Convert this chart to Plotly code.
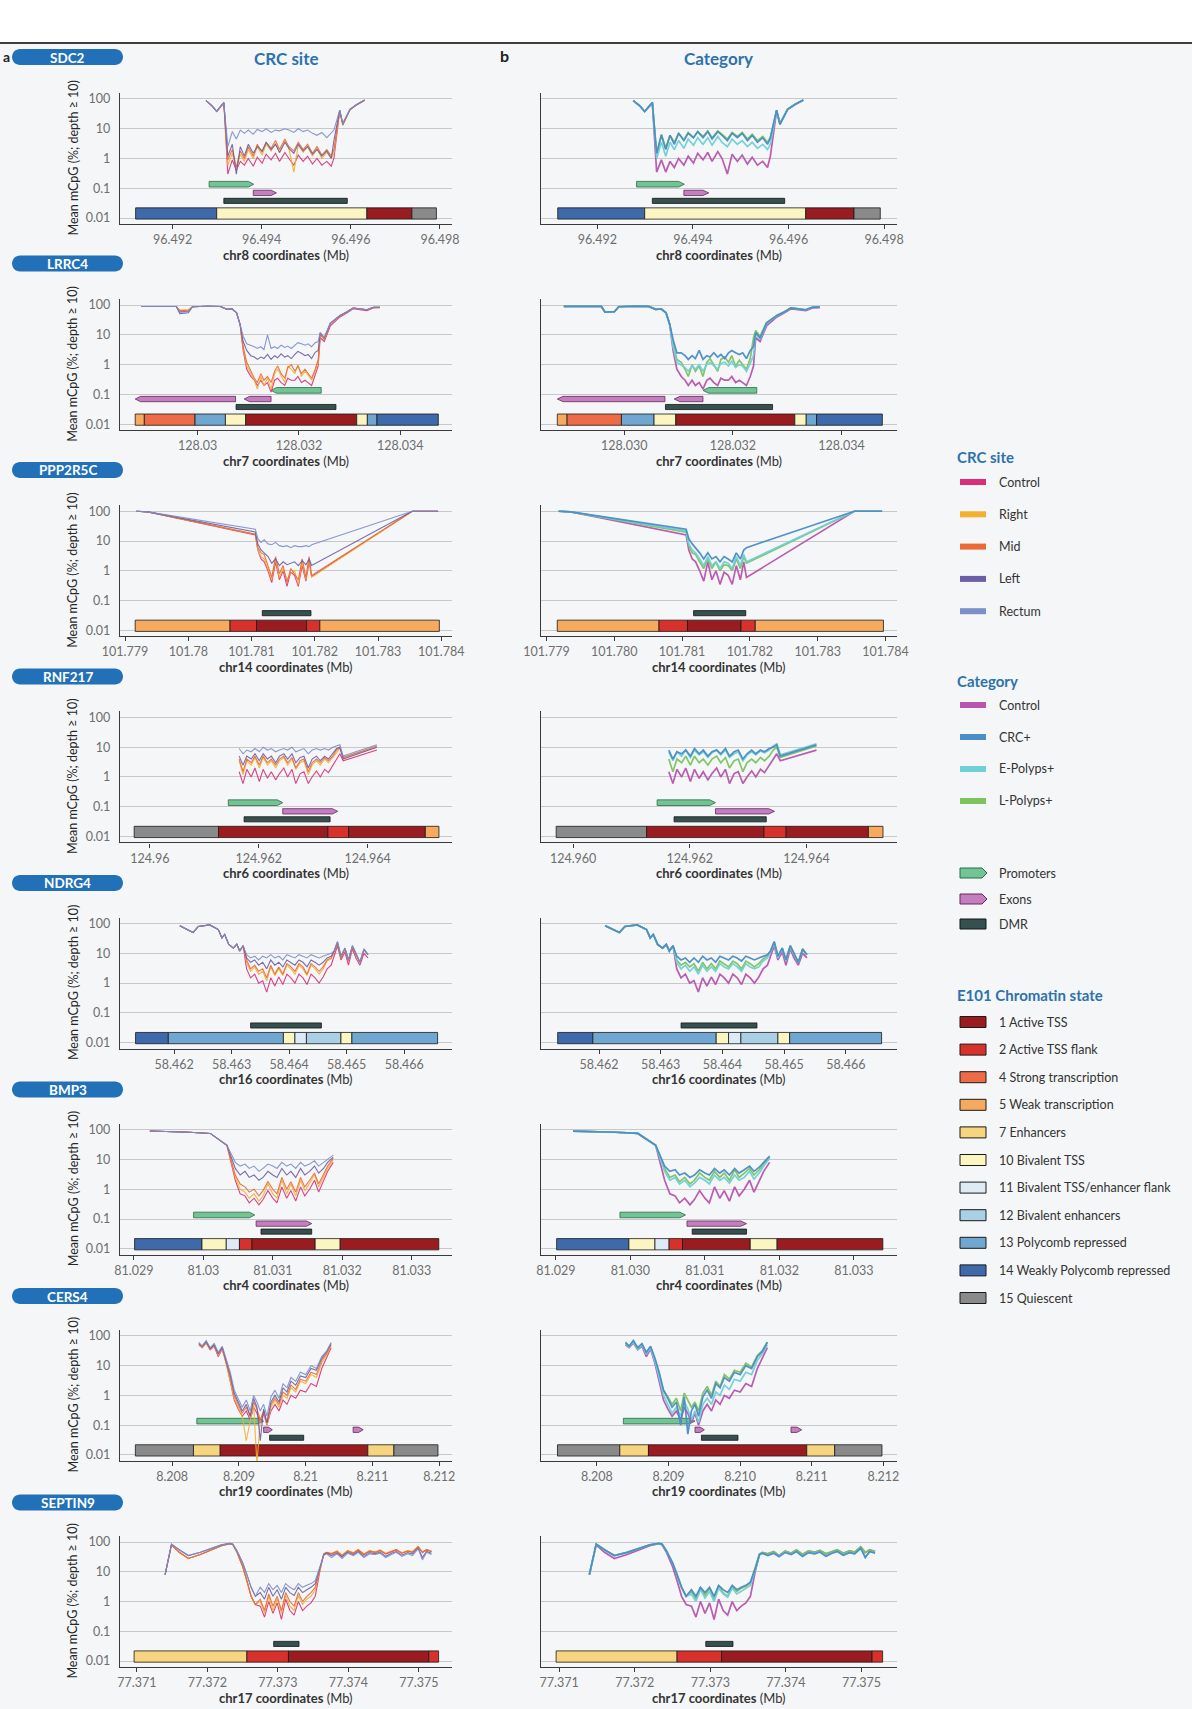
import plotly.graph_objects as go

# ---------------------------------------------------------------- data
SITE_GROUPS = ["Control", "Right", "Mid", "Left", "Rectum"]
SITE_COLORS = ["#d92f7b", "#f3b02f", "#ea6936", "#6b5ea6", "#7b8fcb"]
CAT_GROUPS = ["Control", "CRC+", "E-Polyps+", "L-Polyps+"]
CAT_COLORS = ["#b754ae", "#4b8dc6", "#6fd0d8", "#7dc35e"]
CAT_DRAW_ORDER = ["Control", "L-Polyps+", "E-Polyps+", "CRC+"]

STATE_IDS = [1, 2, 4, 5, 7, 10, 11, 12, 13, 14, 15]
STATE_LABELS = ["1 Active TSS", "2 Active TSS flank", "4 Strong transcription",
                "5 Weak transcription", "7 Enhancers", "10 Bivalent TSS",
                "11 Bivalent TSS/enhancer flank", "12 Bivalent enhancers",
                "13 Polycomb repressed", "14 Weakly Polycomb repressed", "15 Quiescent"]
STATE_COLORS = ["#9a1c20", "#d8312c", "#ee6b47", "#f5aa60", "#f7d47f", "#fbf5c1",
                "#dcebf5", "#a9d0e5", "#6fa7d0", "#3e69aa", "#8a8a8a"]

GENE_NAMES = ["SDC2", "LRRC4", "PPP2R5C", "RNF217", "NDRG4", "BMP3", "CERS4", "SEPTIN9"]
GENE_CHROMS = ["chr8", "chr7", "chr14", "chr6", "chr16", "chr4", "chr19", "chr17"]

# ---- SDC2
SDC2_RANGE = [96.49082, 96.49827]
SDC2_TICKS = [96.492, 96.494, 96.496, 96.498]
SDC2_STATES = [[96.49117, 96.49299, 14], [96.49299, 96.49636, 10], [96.49636, 96.49737, 1], [96.49737, 96.49792, 15]]
SDC2_PROMOTERS = [[96.49282, 96.49382, 1]]
SDC2_EXONS = [[96.49381, 96.49433, 1]]
SDC2_DMR = [[96.49315, 96.49592]]
SDC2_X = [96.49275, 96.49288, 96.49299, 96.49315, 96.49324,
          96.49334, 96.49343, 96.49352, 96.49361, 96.49370, 96.49381, 96.49390, 96.49401, 96.49410, 96.49421,
          96.49431, 96.49440, 96.49452, 96.49461, 96.49472, 96.49482, 96.49493, 96.49503, 96.49514, 96.49524,
          96.49535, 96.49546, 96.49556,
          96.49562, 96.49575, 96.49582, 96.49598, 96.49613, 96.49631]
SDC2_SITE = {
    "Control": [88, 60, 38, 75, 0.3, 0.9, 0.4, 0.8, 0.6, 1.0, 0.55, 1.1, 0.7, 1.4, 0.9, 1.5, 0.8, 1.6, 1.0, 0.6, 1.3, 0.8, 1.2, 0.65, 1.0, 0.6, 0.8, 0.55, 1.0, 40, 15, 44, 64, 90],
    "Right": [88, 60, 38, 75, 0.6, 1.5, 0.4, 1.4, 0.8, 2.0, 1.0, 2.5, 1.3, 3.0, 1.8, 3.2, 1.6, 3.8, 2.2, 0.35, 2.8, 1.6, 2.5, 1.2, 2.2, 1.0, 1.6, 1.0, 1.5, 38, 16, 42, 63, 90],
    "Mid": [88, 60, 38, 75, 0.9, 2.0, 0.5, 1.8, 1.0, 2.5, 1.2, 3.0, 1.6, 3.5, 2.2, 4.0, 2.0, 4.5, 2.5, 1.8, 3.5, 2.0, 3.0, 1.5, 2.5, 1.3, 2.0, 1.2, 2.0, 40, 13, 43, 63, 90],
    "Left": [88, 60, 38, 75, 1.2, 3.0, 0.3, 2.5, 1.2, 3.0, 1.5, 2.5, 1.8, 3.5, 2.0, 3.0, 1.6, 3.5, 2.2, 1.5, 3.0, 1.8, 2.5, 1.4, 2.0, 1.2, 1.8, 1.0, 4.0, 42, 14, 45, 65, 92],
    "Rectum": [88, 60, 38, 75, 2.5, 8, 4.5, 9, 7, 9, 6.5, 9.5, 8, 10, 7.5, 9, 8.5, 10, 9, 7.5, 10, 8, 9, 7, 6, 7.5, 5, 7, 9, 42, 14, 45, 65, 92],
}
SDC2_CAT = {
    "Control": [88, 60, 38, 75, 0.35, 0.9, 0.35, 0.8, 0.5, 1.0, 0.6, 1.2, 0.7, 1.5, 0.9, 1.6, 0.8, 1.7, 1.0, 0.3, 1.4, 0.8, 1.3, 0.65, 1.1, 0.6, 0.8, 0.5, 1.2, 40, 15, 44, 64, 90],
    "CRC+": [88, 60, 38, 75, 1.5, 6, 2, 6, 3, 7, 4, 7, 5, 8, 5, 8, 4.5, 8, 6, 4, 7, 5, 7, 4, 6, 3.5, 5, 3, 5, 42, 14, 45, 65, 92],
    "E-Polyps+": [88, 60, 38, 75, 1.0, 3.5, 1.2, 3.5, 2, 4, 2.2, 4.5, 2.8, 5, 3, 5, 2.8, 5.5, 3.5, 2.5, 4.5, 3, 4, 2.5, 3.5, 2.2, 3, 2, 3, 42, 14, 45, 65, 92],
    "L-Polyps+": [88, 60, 38, 75, 1.4, 6.5, 2.2, 6, 3.5, 7, 4.2, 7.5, 5, 8, 5.5, 8.5, 5, 8.5, 6.5, 4.5, 7.5, 5.5, 7.5, 4.5, 6.5, 4, 5.5, 3.5, 5, 42, 14, 45, 65, 92],
}

# ---- LRRC4
LRRC4_RANGE = [128.02847, 128.03502]
LRRC4_TICKS = [128.030, 128.032, 128.034]
LRRC4_STATES = [[128.02877, 128.02895, 5], [128.02895, 128.02995, 4], [128.02995, 128.03055, 13],
                [128.03055, 128.03095, 10], [128.03095, 128.03314, 1], [128.03314, 128.03335, 10],
                [128.03335, 128.03354, 13], [128.03354, 128.03475, 14]]
LRRC4_PROMOTERS = [[128.03145, 128.03244, -1]]
LRRC4_EXONS = [[128.02877, 128.03075, -1], [128.03092, 128.03145, -1]]
LRRC4_DMR = [[128.03076, 128.03273]]
LRRC4_X = [128.02889, 128.02925, 128.02958, 128.02965, 128.02982, 128.02990, 128.03020, 128.03045, 128.03058, 128.03068,
           128.03077, 128.03084, 128.03090, 128.03097,
           128.03105, 128.03112, 128.03118, 128.03125, 128.03131, 128.03138, 128.03145, 128.03152, 128.03158, 128.03165,
           128.03172, 128.03178, 128.03185, 128.03192, 128.03198, 128.03205, 128.03212, 128.03218, 128.03225, 128.03232,
           128.03238, 128.03242, 128.03250, 128.03262, 128.03281, 128.03295, 128.03307, 128.03320, 128.03334, 128.03347,
           128.03360]
LRRC4_SITE = {
    "Control": [90, 92, 90, 60, 62, 88, 92, 90, 72, 75, 55, 22, 3, 0.7, 0.4, 0.3, 0.2, 0.3, 0.2, 0.25, 0.12, 0.3, 0.35, 0.25, 0.2, 0.35, 0.3, 0.3, 0.4, 0.25, 0.3, 0.25, 0.2, 0.45, 0.9, 8, 6, 20, 40, 55, 75, 70, 65, 80, 82],
    "Right": [90, 92, 90, 68, 70, 88, 92, 90, 72, 75, 55, 22, 3.5, 0.9, 0.5, 0.3, 0.15, 0.4, 0.2, 0.35, 0.15, 0.5, 0.7, 0.4, 0.25, 0.9, 0.7, 0.5, 1.0, 0.4, 0.6, 0.45, 0.3, 0.6, 1.2, 10, 7, 24, 44, 60, 80, 75, 70, 85, 85],
    "Mid": [90, 92, 90, 65, 68, 88, 92, 90, 72, 75, 55, 22, 4, 1.2, 0.6, 0.35, 0.25, 0.5, 0.3, 0.4, 0.25, 0.6, 0.9, 0.5, 0.35, 0.8, 1.0, 0.6, 0.9, 0.5, 0.7, 0.5, 0.35, 0.7, 1.5, 11, 7, 24, 44, 60, 80, 75, 70, 85, 85],
    "Left": [90, 92, 90, 52, 55, 88, 92, 90, 72, 75, 55, 22, 6, 3, 2, 1.8, 1.5, 1.8, 1.6, 2.2, 1.5, 2.0, 1.7, 2.3, 1.8, 2.0, 1.6, 2.2, 2.8, 2.4, 2.0, 2.2, 1.6, 2.6, 3, 12, 8, 25, 45, 60, 80, 75, 70, 85, 85],
    "Rectum": [90, 92, 90, 58, 60, 88, 92, 90, 72, 75, 55, 22, 9, 5, 4.5, 4, 3.5, 4, 3.2, 10, 3.5, 4, 3.5, 4.5, 3.8, 4.2, 3.5, 4.5, 5.5, 5, 4.5, 5, 4, 5.5, 6, 12, 8, 25, 45, 60, 80, 75, 70, 85, 85],
}
LRRC4_CAT = {
    "Control": [90, 92, 90, 58, 60, 88, 92, 90, 72, 75, 55, 22, 3, 0.7, 0.4, 0.3, 0.2, 0.3, 0.2, 0.25, 0.15, 0.3, 0.35, 0.25, 0.2, 0.35, 0.3, 0.3, 0.4, 0.25, 0.3, 0.25, 0.2, 0.4, 0.9, 8, 6, 20, 40, 55, 75, 70, 65, 80, 82],
    "CRC+": [90, 92, 90, 58, 60, 88, 92, 90, 72, 75, 55, 22, 7, 2.5, 2.5, 2, 1.5, 2, 1.6, 3, 1.5, 2, 1.8, 2.5, 1.8, 2.2, 1.6, 2.5, 3, 2.5, 2.2, 2.5, 1.6, 3, 4, 12, 8, 25, 45, 60, 80, 75, 70, 85, 85],
    "E-Polyps+": [90, 92, 90, 58, 60, 88, 92, 90, 72, 75, 55, 22, 4, 1.2, 1.0, 0.8, 0.6, 0.9, 0.7, 1.0, 0.6, 1.0, 1.2, 0.9, 0.7, 1.1, 1.2, 0.9, 1.3, 0.8, 1.0, 0.9, 0.6, 1.1, 2, 11, 7, 24, 44, 60, 80, 75, 70, 85, 85],
    "L-Polyps+": [90, 92, 90, 58, 60, 88, 92, 90, 72, 75, 55, 22, 5, 1.5, 1.2, 0.7, 0.4, 1.0, 0.6, 0.9, 0.4, 1.2, 1.6, 1.0, 0.6, 1.5, 1.8, 1.2, 2.0, 0.9, 1.4, 1.0, 0.7, 1.6, 8, 14, 9, 26, 45, 60, 80, 75, 70, 85, 85],
}

# ---- PPP2R5C
PPP2R5C_RANGE = [101.77892, 101.78417]
PPP2R5C_TICKS = [101.779, 101.780, 101.781, 101.782, 101.783, 101.784]
PPP2R5C_STATES = [[101.77916, 101.78066, 5], [101.78066, 101.78108, 2], [101.78108, 101.78187, 1],
                  [101.78187, 101.78208, 2], [101.78208, 101.78397, 5]]
PPP2R5C_PROMOTERS = []
PPP2R5C_EXONS = []
PPP2R5C_DMR = [[101.78117, 101.78194]]
PPP2R5C_X = [101.77918, 101.77936, 101.78106, 101.78110, 101.78115, 101.78120, 101.78126, 101.78132, 101.78138,
             101.78144, 101.78150, 101.78156, 101.78162, 101.78168, 101.78174, 101.78180, 101.78186, 101.78191,
             101.78195, 101.78354, 101.78395]
PPP2R5C_SITE = {
    "Control": [100, 95, 16, 5, 2.5, 2, 1, 0.4, 2, 0.5, 1, 0.3, 0.9, 0.7, 0.3, 1.5, 0.45, 2, 0.65, 100, 100],
    "Right": [100, 95, 17, 5, 3, 2.5, 1.2, 0.5, 2.5, 0.6, 1.2, 0.5, 0.8, 1.0, 0.35, 2, 0.5, 2.5, 0.6, 100, 100],
    "Mid": [100, 95, 17, 6, 4, 3.5, 1.5, 0.6, 3, 0.8, 1.5, 0.4, 1.2, 0.8, 0.5, 2.5, 0.6, 3, 0.7, 100, 100],
    "Left": [100, 95, 20, 8, 5, 4, 3, 1.8, 2.5, 1.5, 2, 1.6, 1.8, 2, 1.5, 2.2, 1.6, 2.5, 1.5, 100, 100],
    "Rectum": [100, 95, 25, 12, 9, 11, 8, 7.5, 9, 7, 6.5, 7, 6, 7, 6.5, 6.5, 7, 6.5, 7.5, 100, 100],
}
PPP2R5C_CAT = {
    "Control": [100, 95, 16, 5, 2.5, 2, 1, 0.45, 2, 0.5, 1, 0.35, 0.9, 0.7, 0.35, 1.5, 0.5, 2, 0.6, 100, 100],
    "CRC+": [100, 95, 25, 12, 8, 6, 4, 2.5, 4, 2.5, 3, 2, 3, 2.5, 2, 4, 2.5, 5, 6, 100, 100],
    "E-Polyps+": [100, 95, 22, 8, 5, 4, 2.5, 1.5, 3, 1.5, 2, 1.2, 2, 1.8, 1.2, 3, 1.5, 3.5, 2, 100, 100],
    "L-Polyps+": [100, 95, 20, 7, 4, 3.5, 2, 1.2, 2.5, 1.2, 2, 1, 1.6, 1.5, 1, 2.5, 1.2, 3, 1.8, 100, 100],
}

# ---- RNF217
RNF217_RANGE = [124.95945, 124.96555]
RNF217_TICKS = [124.960, 124.962, 124.964]
RNF217_STATES = [[124.95971, 124.96126, 15], [124.96126, 124.96327, 1], [124.96327, 124.96365, 2],
                 [124.96365, 124.96506, 1], [124.96506, 124.96531, 5]]
RNF217_PROMOTERS = [[124.96144, 124.96244, 1]]
RNF217_EXONS = [[124.96244, 124.96345, 1]]
RNF217_DMR = [[124.96173, 124.96331]]
RNF217_X = [124.96164, 124.96171, 124.96178, 124.96186, 124.96193, 124.96201, 124.96208, 124.96216, 124.96223,
            124.96231, 124.96238, 124.96246, 124.96253, 124.96261, 124.96268, 124.96276, 124.96283, 124.96291,
            124.96298, 124.96306, 124.96313, 124.96321, 124.96328, 124.96336, 124.96343, 124.96349, 124.96355,
            124.96417]
RNF217_SITE = {
    "Control": [1.5, 0.6, 1.8, 1.0, 2.0, 0.7, 1.8, 0.9, 1.5, 0.8, 1.3, 2.0, 1.0, 1.8, 0.6, 1.3, 1.5, 0.6, 1.0, 1.6, 1.0, 1.8, 1.4, 2.5, 4, 6, 3.5, 8],
    "Right": [3.5, 1.2, 3.5, 2.5, 4.5, 2, 4.5, 2.5, 3.5, 2, 3.5, 4.5, 2.5, 4, 1.8, 3, 3.5, 1.2, 2.5, 3.5, 2.5, 4, 3, 4.5, 7, 9, 4.5, 10],
    "Mid": [4, 1.5, 4, 3, 5, 2.5, 5, 3, 4, 2.5, 4, 5, 3, 4.5, 2, 3.5, 4, 1.5, 3, 4, 3, 4.5, 3.5, 5, 8, 10, 4.5, 11],
    "Left": [5, 2.5, 5, 4, 6, 3.5, 6, 4, 5, 3, 5, 6, 4, 6, 3, 4.5, 5, 2, 4, 5, 3.5, 5, 4, 6, 9, 10, 4, 10],
    "Rectum": [9, 6, 8, 7, 9, 7, 10, 8, 9, 7, 8, 9, 8, 10, 7, 8, 9, 6, 8, 9, 8, 9, 8, 10, 11, 12, 5, 12],
}
RNF217_CAT = {
    "Control": [1.5, 0.6, 1.8, 1.0, 2.0, 0.7, 1.8, 0.9, 1.5, 0.8, 1.3, 2.0, 1.0, 1.8, 0.6, 1.3, 1.5, 0.6, 1.0, 1.6, 1.0, 1.8, 1.4, 2.5, 4, 6, 3.5, 8],
    "CRC+": [8, 4, 7, 6, 8, 5, 9, 6, 8, 5, 7, 8, 6, 9, 5, 7, 8, 4, 6, 8, 6, 8, 7, 9, 10, 12, 5, 12],
    "E-Polyps+": [7, 3.5, 7, 5, 8, 4.5, 8, 5.5, 7, 4.5, 6.5, 8, 5.5, 8, 4.5, 6, 7, 3.5, 5.5, 7, 5.5, 7.5, 6.5, 8, 11, 13, 5.5, 13],
    "L-Polyps+": [4, 1.5, 4, 3, 5, 2.5, 5, 3, 4, 2.5, 4, 5, 3, 4.5, 2, 3.5, 4, 1.5, 3, 4, 3, 4.5, 3.5, 5, 8, 10, 4.5, 11],
}

# ---- NDRG4
NDRG4_RANGE = [58.46106, 58.46683]
NDRG4_TICKS = [58.462, 58.463, 58.464, 58.465, 58.466]
NDRG4_STATES = [[58.46133, 58.46190, 14], [58.46190, 58.46390, 13], [58.46390, 58.46410, 10], [58.46410, 58.46430, 11],
                [58.46430, 58.46490, 12], [58.46490, 58.46509, 10], [58.46509, 58.46658, 13]]
NDRG4_PROMOTERS = []
NDRG4_EXONS = []
NDRG4_DMR = [[58.46333, 58.46456]]
NDRG4_X = [58.46210, 58.46222, 58.46233, 58.46242, 58.46262, 58.46277, 58.46283, 58.46288, 58.46295, 58.46303,
           58.46309, 58.46314, 58.46320,
           58.46326, 58.46333, 58.46340, 58.46347, 58.46354, 58.46361, 58.46368, 58.46375, 58.46382, 58.46389,
           58.46396, 58.46403, 58.46410, 58.46417, 58.46424, 58.46431, 58.46438, 58.46445, 58.46452, 58.46459,
           58.46466, 58.46473,
           58.46478, 58.46484, 58.46490, 58.46497, 58.46503, 58.46510, 58.46516, 58.46523, 58.46530, 58.46537]
NDRG4_SITE = {
    "Control": [85, 63, 50, 80, 90, 63, 33, 43, 20, 15, 20, 12, 18, 3, 1.5, 2, 1.0, 1.2, 0.5, 1.5, 0.8, 1.6, 0.9, 2.0, 1.5, 1.0, 2.0, 1.5, 0.9, 2.0, 1.5, 1.0, 1.6, 3, 4, 8, 18, 6, 11, 4, 14, 7, 4, 10, 7],
    "Right": [85, 63, 50, 80, 90, 63, 33, 43, 20, 15, 20, 12, 18, 5, 2.5, 3.5, 2, 2.5, 1.2, 3.5, 1.8, 3, 1.8, 4, 3, 2, 4, 3, 1.8, 4, 3, 2, 3, 5.5, 6.5, 11, 22, 7, 14, 5.5, 16, 9, 5, 13, 9],
    "Mid": [85, 63, 50, 80, 90, 63, 33, 43, 20, 15, 20, 12, 18, 6, 3, 4, 2.5, 3, 1.5, 4, 2, 3.5, 2, 4.5, 3.5, 2.5, 4.5, 3.5, 2, 4.5, 3.5, 2.5, 3.5, 6, 7, 11, 22, 7, 14, 5.5, 16, 9, 5, 13, 9],
    "Left": [85, 63, 50, 80, 90, 63, 33, 43, 20, 15, 20, 12, 18, 7, 5, 6, 4, 5, 3, 6, 4, 5, 3.5, 6, 5, 4, 6, 5, 3.5, 6, 5, 4, 5, 7, 8, 12, 24, 8, 15, 6, 18, 10, 5, 14, 9],
    "Rectum": [85, 63, 50, 80, 90, 63, 33, 43, 20, 15, 20, 12, 18, 9, 7, 8, 6, 8, 7, 9, 7, 8, 6, 9, 8, 7, 9, 8, 7, 9, 8, 7, 8, 9, 10, 12, 25, 8, 15, 6, 18, 10, 5, 14, 9],
}
NDRG4_CAT = {
    "Control": [85, 63, 50, 80, 90, 63, 33, 43, 20, 15, 20, 12, 18, 3, 1.5, 2, 1.0, 1.2, 0.5, 1.5, 0.8, 1.6, 0.9, 2.0, 1.5, 1.0, 2.0, 1.5, 0.9, 2.0, 1.5, 1.0, 1.6, 3, 4, 8, 18, 6, 11, 4, 14, 7, 4, 10, 7],
    "CRC+": [85, 63, 50, 80, 90, 63, 33, 43, 20, 15, 20, 12, 18, 8, 6, 7, 5, 7, 5, 8, 6, 7, 5, 8, 7, 6, 8, 7, 5.5, 8, 7, 6, 7, 8, 9, 12, 25, 8, 15, 6, 18, 10, 5, 14, 9],
    "E-Polyps+": [85, 63, 50, 80, 90, 63, 33, 43, 20, 15, 20, 12, 18, 5, 3, 4, 2.5, 3.5, 2, 4, 2.5, 3.5, 2.5, 4.5, 3.5, 3, 4.5, 3.5, 2.5, 4.5, 3.5, 3, 3.5, 5.5, 7, 11, 22, 7, 14, 5.5, 16, 9, 5, 13, 9],
    "L-Polyps+": [85, 63, 50, 80, 90, 63, 33, 43, 20, 15, 20, 12, 18, 6, 4, 5, 3.5, 4.5, 2.5, 5, 3, 4.5, 3, 5.5, 4.5, 3.5, 5.5, 4.5, 3, 5.5, 4.5, 3.5, 4.5, 6.5, 8, 12, 24, 8, 15, 6, 18, 10, 5, 14, 9],
}

# ---- BMP3
BMP3_RANGE = [81.02880, 81.03358]
BMP3_TICKS = [81.029, 81.030, 81.031, 81.032, 81.033]
BMP3_STATES = [[81.02901, 81.02998, 14], [81.02998, 81.03033, 10], [81.03033, 81.03052, 11], [81.03052, 81.03070, 2],
               [81.03070, 81.03161, 1], [81.03161, 81.03197, 10], [81.03197, 81.03339, 1]]
BMP3_PROMOTERS = [[81.02986, 81.03074, 1]]
BMP3_EXONS = [[81.03076, 81.03156, 1]]
BMP3_DMR = [[81.03083, 81.03156]]
BMP3_X = [81.02923, 81.02950, 81.02980, 81.03010, 81.03034, 81.03046,
          81.03053, 81.03060, 81.03066, 81.03073, 81.03080, 81.03086, 81.03093, 81.03100, 81.03106, 81.03113,
          81.03120, 81.03126, 81.03133, 81.03140, 81.03146, 81.03153, 81.03160, 81.03166, 81.03173, 81.03179,
          81.03187]
BMP3_SITE = {
    "Control": [90, 88, 82, 75, 30, 2, 0.7, 0.6, 0.35, 0.5, 0.3, 0.45, 0.9, 0.5, 0.35, 1.2, 0.5, 0.9, 0.4, 1.2, 0.6, 1.0, 2.0, 0.8, 1.8, 4, 8],
    "Right": [90, 88, 82, 75, 30, 2.5, 1.0, 0.8, 0.5, 0.7, 0.4, 0.6, 1.5, 0.7, 0.5, 2.0, 0.7, 1.5, 0.6, 2.0, 0.9, 1.6, 3.0, 1.2, 2.5, 5, 10],
    "Mid": [90, 88, 82, 75, 30, 3, 1.5, 1.2, 0.8, 1.0, 0.6, 0.9, 1.8, 1.0, 0.7, 2.5, 1.0, 1.8, 0.8, 2.5, 1.2, 2.0, 3.5, 1.5, 3, 6, 11],
    "Left": [90, 88, 82, 75, 30, 5, 3, 4, 2.5, 3, 2, 2.5, 4, 3, 2.5, 5, 3, 4, 2.5, 5, 3, 4, 6, 3.5, 5, 8, 12],
    "Rectum": [90, 88, 82, 75, 30, 8, 6, 7, 5, 6, 4, 5, 7, 6, 5, 8, 6, 7, 5, 8, 6, 7, 9, 6, 8, 10, 14],
}
BMP3_CAT = {
    "Control": [90, 88, 82, 75, 30, 2, 0.7, 0.6, 0.35, 0.5, 0.3, 0.45, 0.9, 0.5, 0.35, 1.2, 0.5, 0.9, 0.4, 1.2, 0.6, 1.0, 2.0, 0.8, 1.8, 4, 8],
    "CRC+": [90, 88, 82, 75, 30, 6, 4, 4.5, 3, 3.5, 2.5, 3, 4.5, 3.5, 3, 5, 3.5, 4.5, 3, 5, 3.5, 4.5, 6, 4, 5.5, 8, 13],
    "E-Polyps+": [90, 88, 82, 75, 30, 4, 2, 2.5, 1.5, 2, 1.2, 1.6, 2.5, 2, 1.5, 3, 2, 2.5, 1.6, 3, 2, 2.5, 4, 2.2, 3.5, 6, 11],
    "L-Polyps+": [90, 88, 82, 75, 30, 5, 2.5, 3, 1.8, 2.5, 1.5, 2, 3.5, 2.5, 2, 4, 2.5, 3.5, 2, 4.5, 2.5, 3.5, 5, 3, 4.5, 7, 12],
}

# ---- CERS4
CERS4_RANGE = [8.20722, 8.21219]
CERS4_TICKS = [8.208, 8.209, 8.210, 8.211, 8.212]
CERS4_STATES = [[8.20745, 8.20832, 15], [8.20832, 8.20872, 7], [8.20872, 8.21093, 1], [8.21093, 8.21132, 7],
                [8.21132, 8.21198, 15]]
CERS4_PROMOTERS = [[8.20837, 8.20937, 1]]
CERS4_EXONS = [[8.20937, 8.20950, 1], [8.21071, 8.21086, 1]]
CERS4_DMR = [[8.20946, 8.20997]]
CERS4_X = [8.20840, 8.20845, 8.20851, 8.20857, 8.20863, 8.20869, 8.20875, 8.20881, 8.20887, 8.20893,
           8.20899, 8.20905, 8.20911, 8.20917, 8.20922, 8.20927, 8.20932, 8.20937, 8.20942, 8.20948,
           8.20954, 8.20960, 8.20966, 8.20972, 8.20978, 8.20985, 8.20992, 8.21000, 8.21008, 8.21016,
           8.21024, 8.21031, 8.21038]
CERS4_SITE = {
    "Control": [50, 40, 58, 34, 45, 20, 36, 12, 3, 0.7, 0.35, 0.2, 0.3, 0.15, 0.4, 0.25, 0.12, 0.25, 0.1, 0.3, 0.5, 0.3, 0.7, 0.5, 1.0, 0.8, 1.5, 1.3, 2.5, 2, 8, 18, 40],
    "Right": [50, 40, 60, 35, 48, 22, 38, 12, 3, 0.8, 0.4, 0.2, 0.03, 0.15, 0.5, 0.005, 0.15, 0.3, 0.1, 0.4, 0.7, 0.4, 1.0, 0.8, 1.8, 1.3, 3, 2.5, 5, 4, 12, 22, 45],
    "Mid": [55, 42, 62, 36, 50, 24, 40, 14, 4, 1.0, 0.5, 0.25, 0.4, 0.2, 0.6, 0.35, 0.15, 0.3, 0.12, 0.5, 0.8, 0.5, 1.3, 1.0, 2.2, 1.6, 3.5, 3, 6, 5, 15, 25, 50],
    "Left": [55, 45, 65, 38, 50, 25, 42, 15, 5, 1.2, 0.6, 0.3, 0.5, 0.2, 0.8, 0.4, 0.03, 0.35, 0.12, 0.6, 1.0, 0.6, 1.8, 1.3, 3, 2.2, 4.5, 4, 8, 7, 18, 28, 55],
    "Rectum": [60, 45, 70, 40, 55, 28, 45, 18, 6, 1.5, 0.8, 0.4, 0.7, 0.3, 1.0, 0.6, 0.3, 0.5, 0.2, 0.9, 1.5, 0.8, 2.5, 1.8, 4, 3, 6, 5, 10, 8, 20, 30, 60],
}
CERS4_CAT = {
    "Control": [50, 40, 58, 34, 45, 20, 36, 12, 3, 0.7, 0.35, 0.2, 0.3, 0.15, 0.4, 0.25, 0.12, 0.25, 0.1, 0.3, 0.5, 0.3, 0.7, 0.5, 1.0, 0.8, 1.5, 1.3, 2.5, 2, 8, 18, 40],
    "CRC+": [60, 45, 70, 40, 55, 28, 45, 18, 6, 1.5, 0.8, 0.4, 0.6, 0.1, 0.9, 0.05, 0.3, 0.5, 0.2, 0.9, 1.5, 0.8, 2.5, 1.8, 4, 3, 6, 5, 10, 8, 20, 30, 60],
    "E-Polyps+": [55, 42, 62, 36, 50, 24, 40, 14, 4, 1.0, 0.5, 0.25, 0.4, 0.2, 0.6, 0.35, 0.15, 0.3, 0.12, 0.5, 0.8, 0.5, 1.3, 1.0, 2.2, 1.6, 3.5, 3, 6, 5, 15, 25, 50],
    "L-Polyps+": [58, 44, 66, 38, 52, 26, 42, 16, 5, 1.5, 0.9, 0.5, 0.8, 0.3, 1.2, 0.7, 0.4, 0.6, 0.3, 1.2, 2.0, 1.0, 3, 2.0, 5, 3.5, 7, 6, 12, 9, 22, 32, 62],
}

# ---- SEPTIN9
SEPTIN9_RANGE = [77.37076, 77.37547]
SEPTIN9_TICKS = [77.371, 77.372, 77.373, 77.374, 77.375]
SEPTIN9_STATES = [[77.37096, 77.37256, 7], [77.37256, 77.37315, 2], [77.37315, 77.37514, 1], [77.37514, 77.37528, 2]]
SEPTIN9_PROMOTERS = []
SEPTIN9_EXONS = []
SEPTIN9_DMR = [[77.37294, 77.37330]]
SEPTIN9_X = [77.37140, 77.37149, 77.37160, 77.37173, 77.37190, 77.37205, 77.37220, 77.37232, 77.37236, 77.37242,
             77.37250, 77.37256, 77.37262, 77.37268,
             77.37275, 77.37281, 77.37287, 77.37293, 77.37299, 77.37305, 77.37311, 77.37317, 77.37323, 77.37329,
             77.37335, 77.37341, 77.37347, 77.37353,
             77.37360, 77.37365, 77.37369,
             77.37376, 77.37384, 77.37391, 77.37399, 77.37407, 77.37414, 77.37422, 77.37430, 77.37438, 77.37445,
             77.37453, 77.37461, 77.37468, 77.37476, 77.37484, 77.37491, 77.37499, 77.37505, 77.37511, 77.37518]
SEPTIN9_SITE = {
    "Control": [8, 80, 45, 28, 38, 55, 75, 88, 82, 45, 15, 5, 1.5, 0.8, 0.7, 0.3, 1.0, 0.4, 0.9, 0.25, 1.2, 0.5, 0.35, 1.0, 0.5, 0.7, 0.9, 1.5, 12, 38, 44, 40, 47, 35, 49, 42, 54, 38, 50, 45, 52, 40, 48, 54, 42, 50, 46, 68, 44, 54, 48],
    "Right": [8, 80, 45, 28, 38, 55, 75, 88, 82, 45, 15, 5, 1.5, 0.8, 1.0, 0.4, 1.5, 0.5, 1.2, 0.4, 1.6, 0.7, 0.5, 1.6, 0.8, 1.2, 1.5, 2.5, 14, 40, 45, 42, 50, 36, 52, 44, 56, 40, 52, 46, 54, 42, 50, 56, 44, 52, 48, 72, 46, 56, 50],
    "Mid": [8, 80, 45, 28, 38, 55, 75, 88, 82, 45, 15, 5, 1.5, 0.8, 1.2, 0.5, 1.8, 0.7, 1.5, 0.5, 2, 1.0, 0.7, 2, 1.0, 1.5, 2, 3, 15, 40, 45, 40, 48, 35, 50, 42, 55, 38, 50, 45, 52, 40, 48, 55, 42, 50, 46, 70, 45, 55, 48],
    "Left": [8, 85, 55, 35, 45, 60, 80, 90, 85, 50, 20, 8, 3, 1.5, 2, 1.2, 3, 1.5, 2.5, 1.2, 3, 2, 1.6, 3, 2, 2.5, 3, 4, 14, 38, 42, 35, 42, 32, 45, 38, 48, 33, 44, 40, 46, 33, 42, 48, 36, 44, 40, 62, 30, 48, 42],
    "Rectum": [8, 85, 55, 35, 45, 60, 80, 90, 85, 50, 20, 8, 3, 1.5, 3, 2, 4, 2.5, 3.5, 2, 4, 3, 2.5, 4, 3, 3.5, 4, 5, 15, 35, 40, 30, 40, 28, 42, 35, 45, 30, 40, 38, 42, 30, 38, 45, 33, 40, 35, 60, 25, 45, 38],
}
SEPTIN9_CAT = {
    "Control": [8, 80, 45, 28, 38, 55, 75, 88, 82, 45, 15, 5, 1.5, 0.8, 0.7, 0.3, 1.0, 0.4, 0.9, 0.25, 1.2, 0.5, 0.35, 1.0, 0.5, 0.7, 0.9, 1.5, 12, 38, 44, 40, 47, 35, 49, 42, 54, 38, 50, 45, 52, 40, 48, 54, 42, 50, 46, 68, 44, 54, 48],
    "CRC+": [8, 85, 55, 35, 45, 60, 80, 90, 85, 50, 20, 8, 3, 1.5, 2.5, 1.5, 3, 2, 3, 1.5, 3.5, 2.5, 2, 3.5, 2.5, 3, 3.5, 4.5, 14, 38, 42, 35, 42, 32, 45, 38, 48, 33, 44, 40, 46, 33, 42, 48, 36, 44, 40, 62, 30, 48, 42],
    "E-Polyps+": [8, 85, 55, 35, 45, 60, 80, 90, 85, 50, 20, 8, 3, 1.5, 1.8, 1, 2.5, 1.3, 2.2, 1, 2.8, 1.8, 1.4, 2.8, 1.8, 2.2, 2.8, 3.5, 13, 37, 41, 36, 43, 33, 46, 39, 49, 34, 45, 41, 47, 34, 43, 49, 37, 45, 41, 60, 32, 47, 43],
    "L-Polyps+": [8, 85, 55, 35, 45, 60, 80, 90, 85, 50, 20, 8, 3, 1.5, 2.2, 1.2, 3, 1.6, 2.8, 1.2, 3.5, 2, 1.5, 3.2, 2.2, 2.8, 3.2, 4.2, 15, 40, 45, 40, 48, 35, 50, 42, 55, 38, 50, 45, 52, 40, 48, 55, 42, 50, 46, 70, 45, 55, 48],
}

GENE_TABLE = [
    dict(rng=SDC2_RANGE, ticks=SDC2_TICKS, states=SDC2_STATES, prom=SDC2_PROMOTERS, exon=SDC2_EXONS, dmr=SDC2_DMR, x=SDC2_X, site=SDC2_SITE, cat=SDC2_CAT),
    dict(rng=LRRC4_RANGE, ticks=LRRC4_TICKS, states=LRRC4_STATES, prom=LRRC4_PROMOTERS, exon=LRRC4_EXONS, dmr=LRRC4_DMR, x=LRRC4_X, site=LRRC4_SITE, cat=LRRC4_CAT),
    dict(rng=PPP2R5C_RANGE, ticks=PPP2R5C_TICKS, states=PPP2R5C_STATES, prom=PPP2R5C_PROMOTERS, exon=PPP2R5C_EXONS, dmr=PPP2R5C_DMR, x=PPP2R5C_X, site=PPP2R5C_SITE, cat=PPP2R5C_CAT),
    dict(rng=RNF217_RANGE, ticks=RNF217_TICKS, states=RNF217_STATES, prom=RNF217_PROMOTERS, exon=RNF217_EXONS, dmr=RNF217_DMR, x=RNF217_X, site=RNF217_SITE, cat=RNF217_CAT),
    dict(rng=NDRG4_RANGE, ticks=NDRG4_TICKS, states=NDRG4_STATES, prom=NDRG4_PROMOTERS, exon=NDRG4_EXONS, dmr=NDRG4_DMR, x=NDRG4_X, site=NDRG4_SITE, cat=NDRG4_CAT),
    dict(rng=BMP3_RANGE, ticks=BMP3_TICKS, states=BMP3_STATES, prom=BMP3_PROMOTERS, exon=BMP3_EXONS, dmr=BMP3_DMR, x=BMP3_X, site=BMP3_SITE, cat=BMP3_CAT),
    dict(rng=CERS4_RANGE, ticks=CERS4_TICKS, states=CERS4_STATES, prom=CERS4_PROMOTERS, exon=CERS4_EXONS, dmr=CERS4_DMR, x=CERS4_X, site=CERS4_SITE, cat=CERS4_CAT),
    dict(rng=SEPTIN9_RANGE, ticks=SEPTIN9_TICKS, states=SEPTIN9_STATES, prom=SEPTIN9_PROMOTERS, exon=SEPTIN9_EXONS, dmr=SEPTIN9_DMR, x=SEPTIN9_X, site=SEPTIN9_SITE, cat=SEPTIN9_CAT),
]

Y_TICKS = [0.01, 0.1, 1, 10, 100]
Y_TICKTEXT = ["0.01", "0.1", "1", "10", "100"]

# ---------------------------------------------------------------- styling
W, H = 1192, 1709
FONT = "Lato, 'Open Sans', sans-serif"
BG = "#f5f6f7"
BLUE_TXT = "#2d72ad"
AXIS_C = "#3a3a3a"
GRID_C = "#c8c8c8"
PITCH = 206.15        # plot rows
PILL_PITCH = 206.5    # gene labels
PANEL_X = [(120, 452), (541, 897)]
TRACK = dict(prom=(0.11, 0.17), exon=(0.057, 0.086), dmr=(0.031, 0.046), state=(0.0092, 0.022))
PROM_STYLE = ("#72c495", "#2c6a47")
EXON_STYLE = ("#c47fbf", "#64285f")
DMR_STYLE = ("#34504f", "#151515")
STATE_COLOR = dict(zip(STATE_IDS, STATE_COLORS))


def px(v):
    return v / W


def py(v):
    return 1 - v / H


fig = go.Figure()
shapes = []
annotations = []
layout = dict(width=W, height=H, autosize=False,
              margin=dict(l=0, r=0, t=0, b=0, pad=0, autoexpand=False), paper_bgcolor=BG,
              plot_bgcolor="rgba(0,0,0,0)", showlegend=False,
              font=dict(family=FONT, color="#333333"))


def add_box(xa, ya, x0, x1, y0, y1, fill, edge, direction=0, tip=0.0, width=0.8):
    ym = (y0 * y1) ** 0.5
    if direction > 0:
        t = min(tip, 0.45 * (x1 - x0))
        xs = [x0, x1 - t, x1, x1 - t, x0, x0]
        ys = [y0, y0, ym, y1, y1, y0]
    elif direction < 0:
        t = min(tip, 0.45 * (x1 - x0))
        xs = [x1, x0 + t, x0, x0 + t, x1, x1]
        ys = [y0, y0, ym, y1, y1, y0]
    else:
        xs = [x0, x1, x1, x0, x0]
        ys = [y0, y0, y1, y1, y0]
    fig.add_trace(go.Scatter(x=xs, y=ys, mode="lines", fill="toself", fillcolor=fill,
                             line=dict(color=edge, width=width), xaxis=xa, yaxis=ya,
                             hoverinfo="skip", showlegend=False))


for r, g in enumerate(GENE_TABLE):
    top = 93 + r * PITCH
    bot = 224 + r * PITCH
    lo, hi = g["rng"]
    span = hi - lo
    for c in range(2):
        n = 2 * r + c + 1
        xa = "x" if n == 1 else f"x{n}"
        ya = "y" if n == 1 else f"y{n}"
        x0p, x1p = PANEL_X[c]
        if c == 0:
            ttext = [f"{t:.3f}".rstrip("0").rstrip(".") for t in g["ticks"]]
        else:
            ttext = [f"{t:.3f}" for t in g["ticks"]]
        layout["xaxis" if n == 1 else f"xaxis{n}"] = dict(
            domain=[px(x0p), px(x1p)], range=[lo, hi], anchor=ya, tickmode="array",
            tickvals=g["ticks"], ticktext=ttext, ticks="outside", ticklen=4, tickwidth=1,
            tickcolor=AXIS_C, showgrid=False, showline=True, linecolor=AXIS_C, linewidth=1.3,
            zeroline=False, automargin=False, tickfont=dict(size=12.5, color="#6e6e6e"), fixedrange=True)
        layout["yaxis" if n == 1 else f"yaxis{n}"] = dict(
            domain=[py(bot), py(top)], type="log", range=[-2.2, 2.2], anchor=xa,
            tickmode="array", tickvals=Y_TICKS, ticktext=Y_TICKTEXT, showticklabels=(c == 0),
            ticks="outside", ticklen=6, tickcolor="rgba(0,0,0,0)",
            showgrid=True, gridcolor=GRID_C, gridwidth=1, showline=True, linecolor=AXIS_C,
            linewidth=1.3, zeroline=False, automargin=False,
            tickfont=dict(size=12.5, color="#6e6e6e"), fixedrange=True)

        tip = 0.016 * span
        for s0, s1, st in g["states"]:
            add_box(xa, ya, s0, s1, *TRACK["state"], STATE_COLOR[st], "#1a1a1a")
        for d0, d1 in g["dmr"]:
            add_box(xa, ya, d0, d1, *TRACK["dmr"], *DMR_STYLE)
        for e0, e1, ed in g["exon"]:
            add_box(xa, ya, e0, e1, *TRACK["exon"], *EXON_STYLE, direction=ed, tip=tip)
        for p0, p1, pd in g["prom"]:
            add_box(xa, ya, p0, p1, *TRACK["prom"], *PROM_STYLE, direction=pd, tip=tip)

        if c == 0:
            for name, col in zip(SITE_GROUPS, SITE_COLORS):
                fig.add_trace(go.Scatter(x=g["x"], y=g["site"][name], mode="lines",
                                         line=dict(color=col, width=1.1), opacity=0.9,
                                         xaxis=xa, yaxis=ya, name=name, showlegend=False,
                                         hoverinfo="skip"))
        else:
            cmap = dict(zip(CAT_GROUPS, CAT_COLORS))
            for name in CAT_DRAW_ORDER:
                fig.add_trace(go.Scatter(x=g["x"], y=g["cat"][name], mode="lines",
                                         line=dict(color=cmap[name], width=1.7), opacity=0.95,
                                         xaxis=xa, yaxis=ya, name=name, showlegend=False,
                                         hoverinfo="skip"))

        annotations.append(dict(xref="paper", yref="paper", x=px((x0p + x1p) / 2), y=py(254.5 + r * PITCH),
                                text=f"<b>{GENE_CHROMS[r]} coordinates</b> (Mb)", showarrow=False,
                                xanchor="center", yanchor="middle",
                                font=dict(size=13, color="#333333")))
    # y title
    annotations.append(dict(xref="paper", yref="paper", x=px(73), y=py((top + bot) / 2),
                            text="Mean mCpG (%; depth ≥ 10)", textangle=-90, showarrow=False,
                            xanchor="center", yanchor="middle", font=dict(size=12.5, color="#262626")))
    # gene pill
    x0, x1 = 12, 123
    y0, y1 = 49 + r * PILL_PITCH, 65 + r * PILL_PITCH
    rad = 8
    ym = (y0 + y1) / 2
    path = (f"M {px(x0 + rad)},{py(y0)} L {px(x1 - rad)},{py(y0)} "
            f"C {px(x1 - rad * 0.45)},{py(y0)} {px(x1)},{py(y0 + rad * 0.45)} {px(x1)},{py(ym)} "
            f"C {px(x1)},{py(y1 - rad * 0.45)} {px(x1 - rad * 0.45)},{py(y1)} {px(x1 - rad)},{py(y1)} "
            f"L {px(x0 + rad)},{py(y1)} "
            f"C {px(x0 + rad * 0.45)},{py(y1)} {px(x0)},{py(y1 - rad * 0.45)} {px(x0)},{py(ym)} "
            f"C {px(x0)},{py(y0 + rad * 0.45)} {px(x0 + rad * 0.45)},{py(y0)} {px(x0 + rad)},{py(y0)} Z")
    shapes.append(dict(type="path", xref="paper", yref="paper", path=path,
                       fillcolor="#2271b8", line=dict(width=0)))
    annotations.append(dict(xref="paper", yref="paper", x=px((x0 + x1) / 2), y=py(ym + 0.5),
                            text=f"<b>{GENE_NAMES[r]}</b>", showarrow=False, xanchor="center",
                            yanchor="middle", font=dict(size=13.5, color="white")))

# header band
shapes.append(dict(type="rect", xref="paper", yref="paper", x0=0, x1=1, y0=py(43), y1=1,
                   fillcolor="white", line=dict(width=0), layer="below"))
shapes.append(dict(type="line", xref="paper", yref="paper", x0=0, x1=1, y0=py(43), y1=py(43),
                   line=dict(color="black", width=1.3)))

annotations += [
    dict(xref="paper", yref="paper", x=px(286), y=py(59), text="<b>CRC site</b>", showarrow=False,
         xanchor="center", yanchor="middle", font=dict(size=17, color=BLUE_TXT)),
    dict(xref="paper", yref="paper", x=px(718), y=py(59), text="<b>Category</b>", showarrow=False,
         xanchor="center", yanchor="middle", font=dict(size=17, color=BLUE_TXT)),
    dict(xref="paper", yref="paper", x=px(504), y=py(55), text="<b>b</b>", showarrow=False,
         xanchor="center", yanchor="middle", font=dict(size=16, color="#222222")),
    dict(xref="paper", yref="paper", x=px(0.5), y=py(56), text="<b>a</b>", showarrow=False,
         xanchor="left", yanchor="middle", font=dict(size=14, color="#222222")),
]

# ---------------------------------------------------------------- legend
LX0, LX1, LTX = 960, 986, 997


def legend_title(text, y):
    annotations.append(dict(xref="paper", yref="paper", x=px(955), y=py(y), text=f"<b>{text}</b>",
                            showarrow=False, xanchor="left", yanchor="middle",
                            font=dict(size=15, color=BLUE_TXT)))


def legend_text(text, y):
    annotations.append(dict(xref="paper", yref="paper", x=px(LTX), y=py(y), text=text,
                            showarrow=False, xanchor="left", yanchor="middle",
                            font=dict(size=12.5, color="#333333")))


legend_title("CRC site", 457)
for k, (name, col) in enumerate(zip(SITE_GROUPS, SITE_COLORS)):
    y = 482 + 32.3 * k
    shapes.append(dict(type="rect", xref="paper", yref="paper", x0=px(LX0), x1=px(LX1),
                       y0=py(y + 3), y1=py(y - 3), fillcolor=col, line=dict(width=0)))
    legend_text(name, y)

legend_title("Category", 681)
for k, (name, col) in enumerate(zip(CAT_GROUPS, CAT_COLORS)):
    y = 705 + 32 * k
    shapes.append(dict(type="rect", xref="paper", yref="paper", x0=px(LX0), x1=px(LX1),
                       y0=py(y + 3), y1=py(y - 3), fillcolor=col, line=dict(width=0)))
    legend_text(name, y)

for name, sty, y, arrow in [("Promoters", PROM_STYLE, 873, True), ("Exons", EXON_STYLE, 899, True),
                            ("DMR", DMR_STYLE, 924, False)]:
    ya0, ya1 = y - 5, y + 5
    if arrow:
        p = (f"M {px(LX0)},{py(ya0)} L {px(LX1 - 4)},{py(ya0)} L {px(LX1 + 1)},{py(y)} "
             f"L {px(LX1 - 4)},{py(ya1)} L {px(LX0)},{py(ya1)} Z")
    else:
        p = (f"M {px(LX0)},{py(ya0)} L {px(LX1)},{py(ya0)} L {px(LX1)},{py(ya1)} "
             f"L {px(LX0)},{py(ya1)} Z")
    shapes.append(dict(type="path", xref="paper", yref="paper", path=p, fillcolor=sty[0],
                       line=dict(color=sty[1], width=1)))
    legend_text(name, y)

legend_title("E101 Chromatin state", 995)
for k, (lab, col) in enumerate(zip(STATE_LABELS, STATE_COLORS)):
    y = 1022 + 27.6 * k
    shapes.append(dict(type="rect", xref="paper", yref="paper", x0=px(LX0), x1=px(LX1),
                       y0=py(y + 5.5), y1=py(y - 5.5), fillcolor=col,
                       line=dict(color="#1a1a1a", width=1)))
    legend_text(lab, y)

layout["shapes"] = shapes
layout["annotations"] = annotations
fig.update_layout(**layout)
fig.write_html("out.html", config={"displayModeBar": False},
               post_script="document.body.style.margin='0px';document.body.style.padding='0px';"
                           "document.body.style.overflow='hidden';"
                           "document.documentElement.style.overflow='hidden';")
